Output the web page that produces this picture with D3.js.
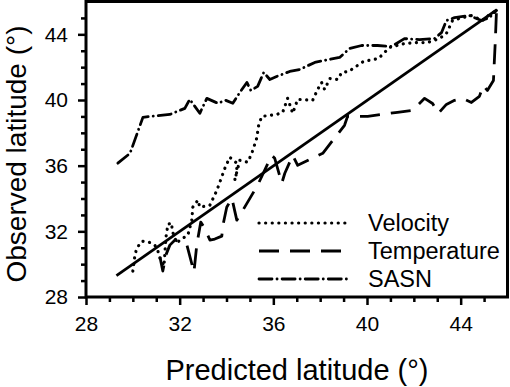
<!DOCTYPE html>
<html>
<head>
<meta charset="utf-8">
<script src="https://cdn.jsdelivr.net/npm/d3@7"></script>
<style>
  body { margin: 0; background: #fff; }
  text { font-family: "Liberation Sans", Arial, sans-serif; fill: #000; }
</style>
</head>
<body>
<div id="chart-area"></div>
<script>
// series: predicted (x) vs observed (y) latitude
var velPred = [30.00, 30.09, 30.17, 30.39, 30.69, 30.94, 31.07, 31.16, 31.33, 31.37, 31.41, 31.50, 31.67, 31.67, 31.88, 32.01, 32.35, 32.52, 32.56, 32.78, 32.86, 33.29, 33.59, 33.93, 34.14, 34.44, 34.44, 34.35, 34.57, 34.91, 35.08, 35.29, 35.38, 35.51, 36.15, 36.40, 36.61, 36.83, 37.04, 37.68, 37.89, 38.06, 38.19, 38.41, 38.75, 38.92, 39.22, 39.85, 40.49, 40.96, 41.60, 42.12, 42.58, 43.10, 43.39, 43.65, 44.08, 44.46, 44.93, 45.23, 45.53];
var velObs  = [29.58, 30.55, 30.98, 31.40, 31.34, 31.16, 30.80, 30.37, 29.88, 30.67, 31.59, 32.44, 32.50, 32.07, 31.28, 31.47, 31.77, 32.68, 33.47, 33.90, 33.47, 33.59, 34.50, 35.84, 36.51, 36.15, 35.60, 35.11, 36.33, 36.21, 36.75, 37.67, 38.52, 39.00, 39.12, 39.25, 40.10, 39.19, 40.04, 39.98, 40.64, 41.07, 40.64, 41.31, 41.25, 41.68, 41.74, 42.35, 42.53, 43.20, 43.44, 43.50, 43.50, 43.74, 44.05, 44.84, 45.02, 45.14, 44.84, 45.20, 45.45];

var tempPred = [31.16, 31.28, 31.41, 31.58, 31.80, 32.14, 32.31, 32.61, 32.73, 32.90, 33.07, 33.29, 33.50, 33.80, 33.84, 34.01, 34.23, 34.44, 34.65, 35.33, 35.93, 36.06, 36.36, 36.49, 36.83, 37.04, 38.11, 39.04, 39.17, 40.03, 41.30, 41.94, 42.46, 42.80, 43.05, 43.39, 43.74, 44.08, 44.46, 44.80, 44.97, 45.14, 45.40, 45.48, 45.53];
var tempObs  = [30.43, 29.58, 30.55, 31.16, 31.47, 31.28, 31.16, 29.52, 31.16, 32.56, 32.19, 31.47, 31.53, 31.71, 32.32, 33.47, 34.02, 32.68, 33.17, 34.81, 36.63, 36.45, 34.93, 35.54, 36.63, 36.02, 36.75, 38.46, 39.00, 39.00, 39.25, 39.37, 40.10, 39.79, 39.19, 39.73, 39.98, 40.10, 39.85, 40.22, 40.89, 40.58, 41.19, 43.62, 45.45];

var sasnPred = [29.36, 29.88, 30.43, 30.73, 31.58, 32.22, 32.43, 32.86, 33.16, 33.63, 33.97, 34.27, 34.57, 34.87, 35.04, 35.33, 35.59, 35.85, 36.14, 36.70, 37.13, 37.77, 38.40, 38.83, 39.26, 39.77, 40.45, 41.05, 41.60, 42.24, 42.88, 43.18, 43.39, 43.74, 44.38, 44.89, 45.23, 45.53];
var sasnObs  = [36.15, 36.75, 38.94, 39.00, 39.12, 39.49, 40.04, 39.19, 40.10, 39.80, 39.98, 39.80, 40.46, 41.07, 40.58, 40.83, 41.68, 41.25, 41.43, 41.74, 41.86, 42.29, 42.47, 42.59, 43.14, 43.32, 43.32, 43.26, 43.74, 43.68, 43.74, 44.10, 44.84, 45.02, 45.14, 44.84, 45.02, 45.45];

// 1:1 line
var refPred = [29.3, 45.55];
var refObs  = [29.3, 45.5];

var majorTicks = [28, 32, 36, 40, 44];
var minorTicks = [29, 30, 31, 33, 34, 35, 37, 38, 39, 41, 42, 43, 45];
var legendNames = ["Velocity", "Temperature", "SASN"];

var W = 510, H = 387;
var pLeft = 86, pRight = 507.5, pTop = 1.5, pBottom = 297;

var svg = d3.select("#chart-area")
	.append("svg")
		.attr("width", W)
		.attr("height", H);

var x = d3.scaleLinear().domain([28, 46]).range([pLeft, pRight]);
var y = d3.scaleLinear().domain([28, 46]).range([pBottom, pTop]);

// minor ticks
var xMinor = d3.axisBottom(x).tickValues(minorTicks).tickSize(5).tickFormat("");
var yMinor = d3.axisLeft(y).tickValues(minorTicks).tickSize(5).tickFormat("");
// major ticks
var xMajor = d3.axisBottom(x).tickValues(majorTicks).tickSize(8).tickPadding(11);
var yMajor = d3.axisLeft(y).tickValues(majorTicks).tickSize(8).tickPadding(10);

[[xMinor, "x"], [xMajor, "x"], [yMinor, "y"], [yMajor, "y"]].forEach(function(a){
	var g = svg.append("g")
		.attr("transform", a[1] == "x" ? "translate(0," + pBottom + ")" : "translate(" + pLeft + ",0)")
		.call(a[0]);
	g.select(".domain").remove();
	g.selectAll("line").attr("stroke", "#000").attr("stroke-width", 2.5);
	g.selectAll("text")
		.attr("font-size", "21px")
		.attr("font-family", "Liberation Sans, Arial, sans-serif")
		.attr("fill", "#000");
});

// frame
svg.append("rect")
	.attr("x", pLeft)
	.attr("y", pTop)
	.attr("width", pRight - pLeft)
	.attr("height", pBottom - pTop)
	.attr("fill", "none")
	.attr("stroke", "#000")
	.attr("stroke-width", 3);

// axis titles
svg.append("text")
	.attr("x", 297)
	.attr("y", 380)
	.attr("font-size", "29px")
	.attr("text-anchor", "middle")
	.text("Predicted latitude (°)");

svg.append("text")
	.attr("x", -154)
	.attr("y", 26)
	.attr("font-size", "28px")
	.attr("text-anchor", "middle")
	.attr("transform", "rotate(-90)")
	.text("Observed latitude (°)");

var styles = [
	{ dash: "0.1 6.5", width: 3.2, cap: "round" },
	{ dash: "20 11", width: 2.8, cap: "butt" },
	{ dash: "13 5 0.1 5", width: 2.8, cap: "round" }
];

var line = d3.line()
	.x(function(d){ return x(d[0]); })
	.y(function(d){ return y(d[1]); });

var series = [
	d3.zip(velPred, velObs),
	d3.zip(tempPred, tempObs),
	d3.zip(sasnPred, sasnObs)
];

series.forEach(function(s, i){
	svg.append("path")
		.datum(s)
		.attr("d", line)
		.attr("fill", "none")
		.attr("stroke", "#000")
		.attr("stroke-width", styles[i].width)
		.attr("stroke-linecap", styles[i].cap)
		.attr("stroke-linejoin", "round")
		.attr("stroke-dasharray", styles[i].dash);
});

// 1:1 solid line
svg.append("path")
	.datum(d3.zip(refPred, refObs))
	.attr("d", line)
	.attr("fill", "none")
	.attr("stroke", "#000")
	.attr("stroke-width", 2.8);

// legend
var legend = svg.append("g");
legendNames.forEach(function(name, i){
	var ly = 223 + i * 28;
	legend.append("line")
		.attr("x1", 259)
		.attr("x2", 347)
		.attr("y1", ly)
		.attr("y2", ly)
		.attr("stroke", "#000")
		.attr("stroke-width", styles[i].width)
		.attr("stroke-linecap", styles[i].cap)
		.attr("stroke-dasharray", styles[i].dash);
	legend.append("text")
		.attr("x", 368)
		.attr("y", ly + 8)
		.attr("font-size", "23.5px")
		.text(name);
});
</script>
</body>
</html>
